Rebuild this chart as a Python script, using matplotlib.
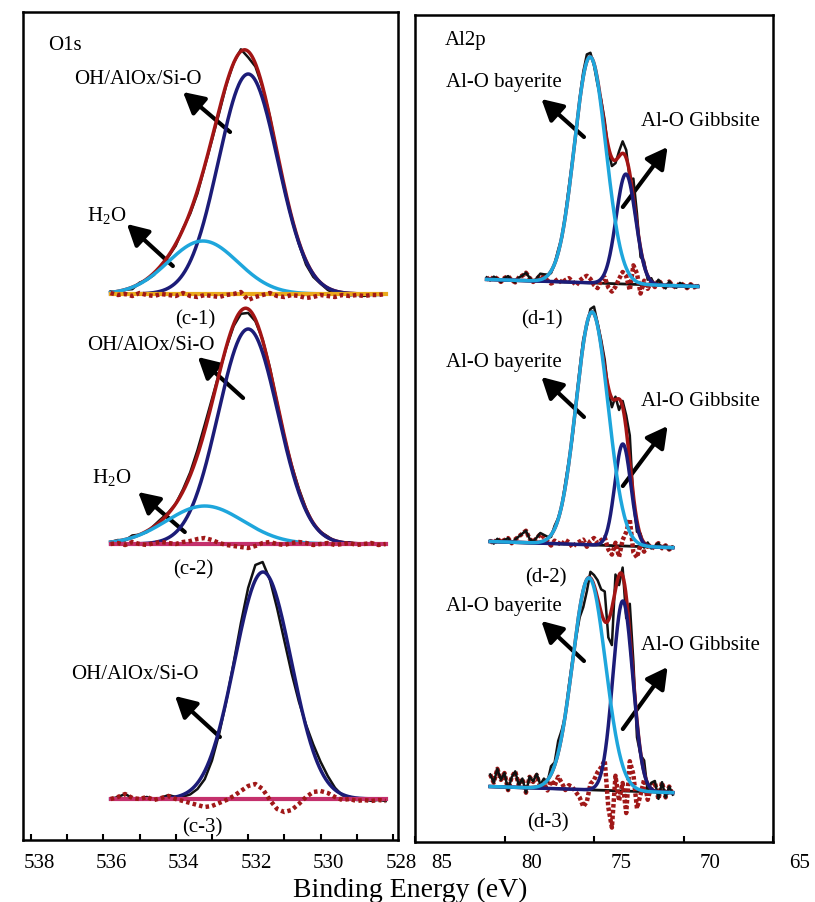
import numpy as np
import matplotlib
matplotlib.use('Agg')
import matplotlib.pyplot as plt
from matplotlib.transforms import blended_transform_factory, ScaledTranslation

plt.rcParams['font.family'] = 'Liberation Serif'
plt.rcParams['mathtext.fontset'] = 'custom'
plt.rcParams['mathtext.rm'] = 'Liberation Serif'

# ---------------- O1s (c-1, c-2, c-3) ----------------
o1s_energy = np.linspace(535.8, 528.2, 39)
o1s_offset = [546, 296, 41]
oh_center = [532.0, 532.0, 531.59]
oh_height = [220, 215, 227]
oh_fwhm = [1.93, 1.95, 1.85]
h2o_center = [533.25, 533.2]
h2o_height = [53, 38]
h2o_fwhm = [2.26, 2.5]
o1s_baseline_color = ['#eaa91c', '#c4306c', '#c4306c']

# residuals (data - fit) on o1s_energy
c1_res = [1, -1, 0, -2, 1, -1, -2, 0, -1, -2, 1, -2, -3, -1, -2, -3, -1, 0, 2, -6,
          -3, -1, 1, -2, -3, -1, -2, -4, -3, -1, -2, -3, -1, -2, -1, -2, -1, -1, 0]
c2_res = [0, 1, -1, 2, 0, -1, 1, 2, 1, 0, 2, 3, 5, 6, 4, 1, -1, -2, -3, -4,
          -2, 1, 2, 0, -1, 1, 2, 1, -1, 0, 1, -1, 0, 1, -1, 0, 1, -1, 0]
c3_res = [0, 2, 5, 1, 0, 2, -1, 1, 3, 0, -2, -4, -6, -8, -7, -4, -1, 3, 8, 13,
          15, 10, -1, -10, -13, -11, -5, 2, 7, 8, 6, 2, -1, 0, -2, -1, -2, -1, -2]
o1s_res = [c1_res, c2_res, c3_res]

# ---------------- Al2p (d-1, d-2, d-3) ----------------
al_energy = [np.linspace(81.0, 69.2, 60), np.linspace(80.8, 70.6, 52), np.linspace(80.8, 70.6, 52)]
al_offset = [559, 297, 52]
bg_slope = 0.6
bay_center = [75.22, 75.11, 75.28]
bay_height = [226, 233, 212]
bay_fwhm = [2.07, 2.1, 2.15]
gib_center = [73.22, 73.39, 73.39]
gib_height = [110, 102, 190]
gib_fwhm = [1.28, 1.05, 1.3]

d1_res = [2, -1, 3, 1, -2, 2, 4, 0, -2, 3, 5, 8, 3, -1, 2, 6, 4, 1, -2, 0,
          3, -1, 2, 4, 1, -3, 2, 5, 7, 4, -2, -5, 3, 6, -4, -8, -3, 5, 12, 8,
          -6, 19, 11, -9, 4, -4, 3, -2, 5, 1, -3, 4, 0, -2, 3, 1, -2, 2, -1, 1]
d2_res = [1, -2, 3, 0, 2, 4, -1, 3, 6, 9, 12, 4, 1, 5, 9, 6, 2, -2, 3, 1,
          -1, 4, 2, -3, 1, 3, 5, -2, 4, 7, 2, 5, 8, -4, -9, 3, -11, 6, 14, 27,
          -6, -11, 2, -5, 3, -2, 1, 4, -1, 2, -2, 1]
d3_res = [12, 4, 18, 7, 14, -3, 10, 16, 2, 9, -5, 11, 6, 13, 1, 5, -2, 8, 3, 12,
          6, -1, 4, 2, -3, -8, -17, -12, 6, 10, 18, 23, 30, -17, -37, 15, -10, 8, -22, 30,
          17, -17, -3, 12, -8, 6, 10, -7, 10, -5, 6, -2]
al_res = [d1_res, d2_res, d3_res]

NAVY = '#1c1c78'
LIGHT = '#1ea6dc'
RED = '#a31515'
DOT = '#a01818'
BLACK = '#111111'


def gauss(e, center, height, fwhm):
    sigma = fwhm / 2.3548
    return height * np.exp(-0.5 * ((e - center) / sigma) ** 2)


def arrow(ax, tail, head):
    ax.annotate('', xy=head, xytext=tail,
                arrowprops=dict(arrowstyle='-|>,head_length=0.7,head_width=0.38',
                                lw=3, color='black', shrinkA=0, shrinkB=0,
                                mutation_scale=18))


fig = plt.figure(figsize=(8.15, 9.03), dpi=100)
ax1 = fig.add_axes([23 / 815, 62 / 903, 375 / 815, 828 / 903])
ax2 = fig.add_axes([415 / 815, 60 / 903, 358 / 815, 827 / 903])

# O1s spectra
for i in range(3):
    e = o1s_energy
    ef = np.linspace(e[0], e[-1], 400)
    base = o1s_offset[i]
    oh = gauss(ef, oh_center[i], oh_height[i], oh_fwhm[i])
    env = oh.copy()
    h2o = None
    fit_pts = gauss(e, oh_center[i], oh_height[i], oh_fwhm[i])
    if i < 2:
        h2o = gauss(ef, h2o_center[i], h2o_height[i], h2o_fwhm[i])
        env = env + h2o
        fit_pts = fit_pts + gauss(e, h2o_center[i], h2o_height[i], h2o_fwhm[i])
    res = np.array(o1s_res[i])
    data = base + fit_pts + res

    ax1.plot(e, data, color=BLACK, lw=1.8, zorder=4)
    if i < 2:
        ax1.plot(ef, base + env, color=RED, lw=2.5, zorder=5)
    ax1.plot(ef, base + oh, color=NAVY, lw=2.5, zorder=6)
    if h2o is not None:
        ax1.plot(ef, base + h2o, color=LIGHT, lw=2.5, zorder=7)
    # baseline and residual lie on top of the fitted components
    ax1.plot(ef, np.full_like(ef, base), color=o1s_baseline_color[i], lw=3.0, zorder=8)
    ax1.plot(e, base + res, color=DOT, lw=3.2,
             linestyle=(0, (0.8, 0.7)), zorder=9)

# Al2p spectra
for i in range(3):
    e = al_energy[i]
    ef = np.linspace(e[0], e[-1], 400)
    bgf = al_offset[i] + bg_slope * (ef - 75)
    bg = al_offset[i] + bg_slope * (e - 75)
    bay = gauss(ef, bay_center[i], bay_height[i], bay_fwhm[i])
    gib = gauss(ef, gib_center[i], gib_height[i], gib_fwhm[i])
    fit_pts = gauss(e, bay_center[i], bay_height[i], bay_fwhm[i]) + \
        gauss(e, gib_center[i], gib_height[i], gib_fwhm[i])
    res = np.array(al_res[i])
    data = bg + fit_pts + res

    ax2.plot(ef, bgf, color=BLACK, lw=2.0, zorder=2)
    ax2.plot(e, bg + res, color=DOT, lw=3.2, linestyle=(0, (0.8, 0.5)), zorder=3)
    ax2.plot(e, data, color=BLACK, lw=1.8, zorder=4)
    ax2.plot(ef, bgf + bay + gib, color=RED, lw=2.5, zorder=5)
    ax2.plot(ef, bgf + gib, color=NAVY, lw=2.5, zorder=6)
    ax2.plot(ef, bgf + bay, color=LIGHT, lw=2.5, zorder=7)

# axes frames and ticks
ax1.set_xlim(538.22, 527.86)
ax1.set_ylim(0, 828)
ax2.set_xlim(85, 65)
ax2.set_ylim(0, 827)
o1s_ticks = [538, 536, 534, 532, 530, 528]
al_ticks = [85, 80, 75, 70, 65]
ax1.set_xticks(o1s_ticks)
ax1.set_xticks(np.arange(529, 538, 1), minor=True)
ax2.set_xticks(al_ticks)
for ax in (ax1, ax2):
    ax.set_yticks([])
    ax.set_xticklabels([])
    ax.tick_params(axis='x', which='both', direction='in', length=4, width=1.5)
    for s in ax.spines.values():
        s.set_linewidth(1.8)

# tick labels sit a little to the right of their tick marks
for ax, ticks, dx in ((ax1, o1s_ticks, 8), (ax2, al_ticks, 27)):
    trans = blended_transform_factory(ax.transData, fig.transFigure) + \
        ScaledTranslation(dx / 100, 0, fig.dpi_scale_trans)
    for t in ticks:
        ax.text(t, 39 / 903, str(t), transform=trans, ha='center', va='center',
                fontsize=15, clip_on=False)

fig.text(410 / 815, 13 / 903, 'Binding Energy (eV)', ha='center', va='center', fontsize=20)

fs = 15
# O1s labels
ax1.text(537.53, 796, 'O1s', fontsize=fs, ha='left', va='center')
ax1.text(535.04, 761, 'OH/AlOx/Si-O', fontsize=fs, ha='center', va='center')
arrow(ax1, (532.50, 708), (533.80, 748))
ax1.text(535.90, 626, 'H$\\mathregular{_2}$O', fontsize=fs, ha='center', va='center')
arrow(ax1, (534.08, 574), (535.35, 616))
ax1.text(533.47, 521, '(c-1)', fontsize=fs, ha='center', va='center')

ax1.text(534.69, 495, 'OH/AlOx/Si-O', fontsize=fs, ha='center', va='center')
arrow(ax1, (532.14, 442), (533.39, 483))
ax1.text(535.76, 363, 'H$\\mathregular{_2}$O', fontsize=fs, ha='center', va='center')
arrow(ax1, (533.75, 308), (535.04, 348))
ax1.text(533.52, 271, '(c-2)', fontsize=fs, ha='center', va='center')

ax1.text(535.13, 166, 'OH/AlOx/Si-O', fontsize=fs, ha='center', va='center')
arrow(ax1, (532.78, 103), (534.02, 144))
ax1.text(533.28, 13, '(c-3)', fontsize=fs, ha='center', va='center')

# Al2p labels
ax2.text(83.33, 803, 'Al2p', fontsize=fs, ha='left', va='center')
for val_text, tail, head, gib_val, gtail, ghead in (
        (761, 705, 743, 721, 635, 695),
        (480, 425, 465, 441, 356, 416),
        (237, 181, 221, 197, 113, 175)):
    ax2.text(80.06, val_text, 'Al-O bayerite', fontsize=fs, ha='center', va='center')
    arrow(ax2, (75.56, tail), (77.94, head))
    ax2.text(69.06, gib_val, 'Al-O Gibbsite', fontsize=fs, ha='center', va='center')
    arrow(ax2, (73.39, gtail), (70.89, ghead))
ax2.text(77.89, 523, '(d-1)', fontsize=fs, ha='center', va='center')
ax2.text(77.67, 265, '(d-2)', fontsize=fs, ha='center', va='center')
ax2.text(77.56, 20, '(d-3)', fontsize=fs, ha='center', va='center')

fig.savefig('out.png', dpi=100)
